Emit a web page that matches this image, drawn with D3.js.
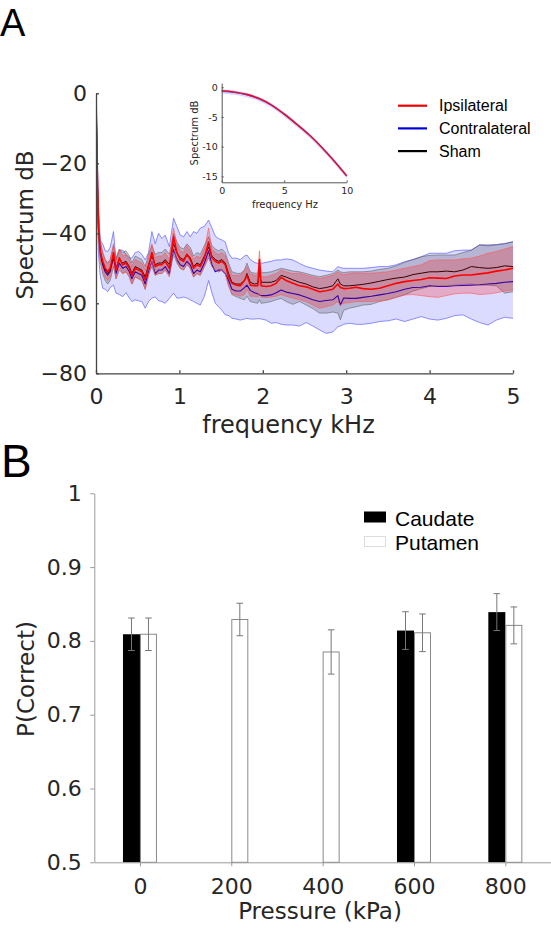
<!DOCTYPE html>
<html><head><meta charset="utf-8">
<script src="https://cdn.jsdelivr.net/npm/d3@7"></script>
<style>body{margin:0;background:#fff}svg{display:block}</style>
</head><body>
<script>
// ---------- Panel A data (frequency kHz, spectrum dB) ----------
const freqKHz = [0,0.01,0.02,0.03,0.05, 0.08,0.11,0.14,0.17,0.21, 0.24,0.28,0.32,0.36,0.40, 0.43,0.47,0.51,0.55,0.59, 0.63,0.67,0.71,0.75,0.79, 0.83,0.88,0.93,0.97,1.01, 1.05,1.09,1.13,1.17,1.21, 1.25,1.30,1.35,1.39,1.43, 1.47,1.51,1.55,1.59,1.63, 1.68,1.73,1.78,1.81,1.85, 1.90,1.94,1.96,1.98,2.04, 2.10,2.16,2.22,2.28,2.36, 2.44,2.52,2.60,2.68,2.76, 2.84,2.90,2.93,2.97,3.04, 3.12,3.20,3.30,3.40,3.50, 3.60,3.70,3.80,3.90,4.00, 4.10,4.20,4.30,4.40,4.50, 4.60,4.70,4.80,4.90,5.00];

const ipsiMean = [0,-14,-28,-38,-45, -48,-50,-51,-50,-45.5, -50.5,-47,-49,-48.5,-50, -52,-50,-50.5,-51,-53.3, -49.5,-45.5,-49.5,-49,-49, -48,-50,-41,-45.5,-47.5, -48,-46,-47.5,-50,-49, -49.5,-47,-42.5,-47,-48, -48.5,-48,-49,-52.5,-54.3, -54.8,-55,-53.5,-52,-54.8, -55,-55,-47.5,-55,-55.2, -55,-54.3,-52.6,-53.5,-54.3, -55,-55.3,-56,-56.7,-56.4, -56,-54.5,-55.5,-55.8,-55.7, -55.4,-55.8,-56,-55.7,-55, -54.3,-53.8,-53.5,-53.2,-52.7, -52.8,-52.9,-52.2,-51.9,-51.9, -51.6,-51.3,-50.8,-50.5,-50];
const ipsiHi = [0,-12,-25,-35,-42.5, -45.5,-47.5,-48.5,-47.5,-43, -48,-44.5,-46.5,-46,-47.5, -49.5,-47.5,-48,-48.5,-50.5, -47,-43,-47,-46.5,-46.5, -45.5,-47.5,-38.5,-43,-45, -45.5,-43.5,-45,-47.5,-46.5, -47,-44.5,-38.5,-44.5,-45.5, -46,-45.5,-46.5,-49.5,-52, -52,-52,-50.5,-49.5,-51.5, -52,-52,-45,-52.3,-52.5, -52,-51.5,-50.5,-51,-51.5, -51.4,-52,-52.5,-52.9,-52.5, -52,-51,-51.5,-51.8,-51.5, -51.3,-51.4,-51.4,-51.2,-51, -50.5,-50,-49.5,-49,-47.8, -47.6,-47.6,-47.6,-47.3,-47.1, -46.5,-45.7,-45.2,-44.5,-43.8];
const ipsiLo = [0,-16,-31,-41,-47.5, -50.5,-52.5,-53.5,-52.5,-48, -53,-49.5,-51.5,-51,-52.5, -54.5,-52.5,-53,-53.5,-56, -52,-48,-52,-51.5,-51.5, -50.5,-52.5,-43.5,-48,-50, -50.5,-48.5,-50,-52.5,-51.5, -52,-49.5,-46.5,-49.5,-50.5, -51,-50.5,-51.5,-55,-57.2, -57.6,-58,-57.5,-56,-58, -58,-58.2,-57,-58.2,-58.4, -58.2,-58,-57.5,-58,-58.5, -59,-59.5,-60.5,-61.4,-61, -60.5,-59.5,-60.5,-60,-59.8, -59.5,-59.5,-59.5,-59.3,-59, -58.3,-57.6,-57.5,-57.8,-58.1, -58.3,-57.8,-57.3,-57.1,-57.1, -57.5,-57.3,-57,-56.5,-56.2];

const contraMean = [0,-16,-30,-39,-46, -49,-51,-52,-51,-47, -51.5,-48.5,-50,-49.5,-51, -53,-51,-51.5,-52,-54.5, -51,-48,-51.5,-50.5,-50.5, -49.5,-51.5,-44.5,-47.5,-49, -49.5,-48,-49,-51.5,-50.5, -51,-48.5,-45,-49,-51, -50.5,-50.5,-51.5,-53.5,-56, -56.5,-56.5,-55.5,-54.8,-56.3, -57,-57.3,-57.6,-57.8,-57.8, -57.6,-57,-56.2,-56.8,-57.2, -57.6,-58.3,-59,-59.5,-59.2, -59,-57.8,-60.5,-58.5,-58.6, -58.6,-58.3,-58,-57.6,-57.2, -56.7,-56,-55.5,-55.4,-55, -55.2,-55.2,-55,-54.9,-54.8, -54.7,-54.5,-54.3,-54,-53.8];
const contraHi = [0,-10,-22,-33,-42, -43,-45,-45.2,-44,-39.5, -47.6,-44.8,-44.8,-46,-47, -47.1,-45.5,-45.2,-46,-47.6, -45.5,-39.5,-43,-40,-41.5, -40.5,-43.8,-35.7,-38.1,-40.5, -41,-39.5,-41,-39.5,-40, -38.5,-38,-36.2,-38.5,-40.8, -41.5,-41.9,-42.5,-45.7,-47.1, -47.1,-47.5,-46.5,-46.2,-47.5, -48.3,-48.6,-48.6,-48.6,-48.3, -48,-47.6,-47.6,-47.3,-47.6, -48.6,-49.5,-50,-50.5,-50.8, -51,-49.5,-49.8,-50,-50, -50,-50,-49.8,-49.5,-49.5, -49,-48.1,-47.5,-46.7,-45.7, -45.7,-45.7,-45,-44.8,-44.8, -43.3,-43.6,-43.3,-43,-42.4];
const contraLo = [0,-22,-36,-46,-52, -55.7,-56,-56.7,-55.5,-54.8, -57.1,-57.5,-58.1,-57,-58.5, -59.5,-59,-59.3,-59.5,-61.4, -59.5,-58.5,-58.2,-59.3,-59.5, -60,-58.6,-57.1,-58.5,-58.5, -58.2,-58.5,-59,-59.5,-60, -60.5,-58,-53.5,-57,-60, -61,-62,-63.3,-63.5,-64.3, -64.5,-64.8,-64.5,-64.3,-64.5, -64.5,-64.4,-64.4,-64.5,-64.8, -65.7,-65.5,-66,-66.2,-66.2, -66.5,-65.5,-66.5,-67.6,-68.6, -68.2,-66.7,-66.5,-66,-65.7, -66,-66,-65.7,-65.2,-65, -64.5,-65.2,-64.5,-63.8,-64.5, -64.8,-64.3,-63.5,-63.3,-64.5, -65.5,-66.2,-64.8,-64,-64.3];

const shamMean = [0,-15,-29,-38,-45, -48.5,-50.5,-51.5,-50.5,-46.5, -50,-47.5,-48.5,-48,-49.5, -51.5,-49.5,-50,-50.5,-52.5, -49,-46.5,-49,-48.5,-48.5, -47.5,-49,-43,-45.5,-47, -47.5,-46,-47,-49.5,-48.5, -49,-46.5,-44,-46.5,-47.5, -48,-47.5,-48.5,-51.5,-54, -54.5,-54.5,-53.5,-51.5,-54, -54.5,-54.3,-51,-54,-54, -54,-53.5,-52,-52.5,-53.3, -54,-54.5,-55.3,-55.8,-55.5, -55,-53,-54.5,-55,-55, -54.8,-54.6,-54.2,-53.7,-53.2, -52.8,-52.5,-51.8,-51.4,-51, -51,-50.8,-51,-50.5,-49.5, -49.8,-50,-49.8,-49.3,-49.5];
const shamHi = [0,-11,-25,-34.5,-42, -45.5,-47.5,-48.5,-47.5,-43.5, -47,-44.5,-45.5,-45,-46.5, -48.5,-46.5,-47,-47.5,-49.5, -46,-43.5,-46,-45.5,-45.5, -44.5,-46,-40,-42.5,-44, -44.5,-43,-44,-46.5,-45.5, -46,-43.5,-41,-43.5,-44.5, -45,-44.5,-45.5,-48.5,-51, -51.4,-51.5,-50.5,-48.5,-51, -51.4,-51.4,-48,-51.3,-51.2, -51,-50.5,-50,-50.3,-50.8, -51,-51.5,-52,-52.4,-52, -51.5,-50.5,-51,-51.2,-51, -51,-51,-50.8,-50.3,-50, -49.3,-48.3,-47.5,-46.7,-46.3, -46.2,-46.2,-46.2,-45.5,-44.8, -43.3,-43.3,-43.2,-42.9,-42.4];
const shamLo = [0,-19,-33,-41.5,-48, -51.5,-53.5,-54.5,-53.5,-49.5, -53,-50.5,-51.5,-51,-52.5, -54.5,-52.5,-53,-53.5,-56, -52,-49.5,-52,-51.5,-51.5, -50.5,-52,-46,-48.5,-50, -50.5,-49,-50,-52.5,-51.5, -52,-49.5,-47,-49.5,-50.5, -51,-50.5,-51.5,-55,-57.5, -58.1,-58.6,-59,-58,-59.5, -59.8,-60,-59,-60,-59.8, -59.5,-59,-58.6,-59.5,-60.3, -59.5,-60.5,-61.5,-62.8,-62.8, -62.5,-62.8,-64.7,-62,-61.4, -61,-60.5,-60.3,-59.5,-59, -58.3,-57.6,-56.5,-55.8,-55.2, -55,-55,-54.8,-54.6,-54.5, -54.8,-54.8,-55,-57.1,-56.7];

const spectrumXTicks = [0,1,2,3,4,5];
const spectrumYTicks = [0,-20,-40,-60,-80];
const legendA = ["Ipsilateral","Contralateral","Sham"];

// inset (frequency Hz, spectrum dB)
const insetFreqHz = [0,1,2,3,4,5,6,7,8,9,10];
const insetIpsi   = [-0.6,-0.8,-1.2,-1.9,-3.0,-4.5,-6.2,-8.0,-10.1,-12.4,-14.9];
const insetContra = [-0.7,-0.9,-1.3,-2.0,-3.1,-4.6,-6.3,-8.1,-10.2,-12.5,-15.0];
const insetXTicks = [0,5,10];
const insetYTicks = [0,-5,-10,-15];

// ---------- Panel B data ----------
const pressures = [0,200,400,600,800];
const caudateP   = [0.809,null,null,0.814,0.839];
const caudateErr = [0.022,null,null,0.0255,0.025];
const putamenP   = [0.809,0.829,0.785,0.811,0.821];
const putamenErr = [0.022,0.022,0.030,0.0255,0.025];
const pTicks = [0.5,0.6,0.7,0.8,0.9,1];
const legendB = ["Caudate","Putamen"];

// ---------- drawing ----------
const W = 551, H = 928;
const svg = d3.select("body").append("svg").attr("width", W).attr("height", H);
const AX = "DejaVu Sans, sans-serif", LG = "Liberation Sans, Arial, sans-serif";
const txt = "#262626";
const minus = d => d < 0 ? "\u2212" + Math.abs(d) : String(d);

// Panel letters
svg.append("text").attr("x", 0).attr("y", 36).attr("font-family", LG).attr("font-size", 38).attr("fill", "#000").text("A");
svg.append("text").attr("x", 1).attr("y", 477).attr("font-family", LG).attr("font-size", 46).attr("fill", "#000").text("B");

// ===== Panel A =====
const xA = d3.scaleLinear().domain([0,5]).range([96,513]);
const yA = d3.scaleLinear().domain([-80,0]).range([373.3,93.3]);

svg.append("defs").append("clipPath").attr("id","clipA")
  .append("rect").attr("x",96).attr("y",93.3).attr("width",417).attr("height",280);

const gA = svg.append("g").attr("clip-path","url(#clipA)");
const idx = d3.range(freqKHz.length);
function band(lo, hi, fill, edge) {
  const area = d3.area().x(i => xA(freqKHz[i])).y0(i => yA(lo[i])).y1(i => yA(hi[i]));
  gA.append("path").attr("d", area(idx)).attr("fill", fill).attr("stroke","none");
  const ln = arr => d3.line().x(i => xA(freqKHz[i])).y(i => yA(arr[i]))(idx);
  gA.append("path").attr("d", ln(lo)).attr("fill","none").attr("stroke", edge).attr("stroke-width",0.9);
  gA.append("path").attr("d", ln(hi)).attr("fill","none").attr("stroke", edge).attr("stroke-width",0.9);
}
function meanLine(arr, color, w) {
  gA.append("path").attr("d", d3.line().x(i => xA(freqKHz[i])).y(i => yA(arr[i]))(idx))
    .attr("fill","none").attr("stroke", color).attr("stroke-width", w).attr("stroke-linejoin","round");
}
band(contraLo, contraHi, "rgba(40,40,255,0.17)", "rgba(90,90,255,0.75)");
meanLine(contraMean, "#0000ff", 1.1);
band(shamLo, shamHi, "rgba(0,0,0,0.17)", "rgba(90,90,90,0.6)");
meanLine(shamMean, "#000", 1);
band(ipsiLo, ipsiHi, "rgba(255,0,0,0.22)", "rgba(255,90,90,0.7)");
meanLine(ipsiMean, "#ff0000", 1.6);

// axes A
const axA_y = svg.append("g").attr("transform","translate(96,0)")
  .call(d3.axisLeft(yA).tickValues(spectrumYTicks).tickSizeInner(-3).tickSizeOuter(0).tickPadding(9).tickFormat(minus));
const axA_x = svg.append("g").attr("transform","translate(0,373.3)")
  .call(d3.axisBottom(xA).tickValues(spectrumXTicks).tickSizeInner(-3).tickSizeOuter(0).tickPadding(15).tickFormat(minus));
[axA_y, axA_x].forEach(g => {
  g.select(".domain").attr("stroke","#444").attr("stroke-width",1.3);
  g.selectAll(".tick line").attr("stroke","#444").attr("stroke-width",1.3);
  g.selectAll("text").attr("font-family",AX).attr("font-size",22).attr("fill",txt);
});
svg.append("text").attr("transform","translate(33,225) rotate(-90)").attr("text-anchor","middle")
  .attr("font-family",AX).attr("font-size",23).attr("fill",txt).text("Spectrum dB");
svg.append("text").attr("x",288.5).attr("y",433).attr("text-anchor","middle")
  .attr("font-family",AX).attr("font-size",24).attr("fill",txt).text("frequency kHz");

// legend A
const legColors = ["#ee0000","#0000dd","#000000"];
legendA.forEach((name, i) => {
  const y = 105.7 + i * 22.7;
  svg.append("line").attr("x1",398).attr("x2",427).attr("y1",y).attr("y2",y)
    .attr("stroke",legColors[i]).attr("stroke-width",2.2);
  svg.append("text").attr("x",439).attr("y",y+5.5).attr("font-family",LG).attr("font-size",16).attr("fill","#000").text(name);
});

// inset
const xI = d3.scaleLinear().domain([0,10]).range([221.7,346.7]);
const yI = d3.scaleLinear().domain([-16,0.7]).range([182.3,83.1]);
const iidx = d3.range(insetFreqHz.length);
const insetArea = d3.area().curve(d3.curveMonotoneX).x(i => xI(insetFreqHz[i]))
  .y0(i => yI(insetContra[i]) + 2.2).y1(i => yI(insetContra[i]) - 2.2);
svg.append("path").attr("d", insetArea(iidx)).attr("fill","rgba(60,60,255,0.22)");
const insetLine = arr => d3.line().curve(d3.curveMonotoneX).x(i => xI(insetFreqHz[i])).y(i => yI(arr[i]))(iidx);
svg.append("path").attr("d", insetLine(insetContra)).attr("fill","none").attr("stroke","#6666ff").attr("stroke-width",1);
svg.append("path").attr("d", insetLine(insetIpsi)).attr("fill","none").attr("stroke","#dd1030").attr("stroke-width",1.6);
const axI_y = svg.append("g").attr("transform","translate(221.7,0)")
  .call(d3.axisLeft(yI).tickValues(insetYTicks).tickSizeInner(-2).tickSizeOuter(0).tickPadding(4).tickFormat(d => d < 0 ? "-" + Math.abs(d) : d));
const axI_x = svg.append("g").attr("transform","translate(0,182.3)")
  .call(d3.axisBottom(xI).tickValues(insetXTicks).tickSizeInner(-2).tickSizeOuter(0).tickPadding(5));
[axI_y, axI_x].forEach(g => {
  g.select(".domain").attr("stroke","#555").attr("stroke-width",1);
  g.selectAll(".tick line").attr("stroke","#555");
  g.selectAll("text").attr("font-family",AX).attr("font-size",9.5).attr("fill",txt);
});
svg.append("text").attr("transform","translate(198,133) rotate(-90)").attr("text-anchor","middle")
  .attr("font-family",AX).attr("font-size",10).attr("fill",txt).text("Spectrum dB");
svg.append("text").attr("x",285).attr("y",208).attr("text-anchor","middle")
  .attr("font-family",AX).attr("font-size",10).attr("fill",txt).text("frequency Hz");

// ===== Panel B =====
const xB = d3.scaleLinear().domain([-100,900]).range([94.3,551]);
const yB = d3.scaleLinear().domain([0.5,1]).range([862.3,493.3]);
const bw = 17;
const gB = svg.append("g");
pressures.forEach((p, i) => {
  const cx = xB(p);
  if (caudateP[i] != null) {
    gB.append("rect").attr("x", cx - bw).attr("y", yB(caudateP[i])).attr("width", bw)
      .attr("height", yB(0.5) - yB(caudateP[i])).attr("fill","#000");
  }
  if (putamenP[i] != null) {
    gB.append("rect").attr("x", cx + 0.5).attr("y", yB(putamenP[i])).attr("width", bw - 1)
      .attr("height", yB(0.5) - yB(putamenP[i])).attr("fill","#fff").attr("stroke","#8a8a8a").attr("stroke-width",1);
  }
});
function errBar(xc, v, e) {
  const g = gB.append("g").attr("stroke","#777").attr("stroke-width",1);
  g.append("line").attr("x1",xc).attr("x2",xc).attr("y1",yB(v-e)).attr("y2",yB(v+e));
  g.append("line").attr("x1",xc-3.3).attr("x2",xc+3.3).attr("y1",yB(v+e)).attr("y2",yB(v+e));
  g.append("line").attr("x1",xc-3.3).attr("x2",xc+3.3).attr("y1",yB(v-e)).attr("y2",yB(v-e));
}
pressures.forEach((p, i) => {
  const cx = xB(p);
  if (caudateP[i] != null) errBar(cx - bw/2, caudateP[i], caudateErr[i]);
  if (putamenP[i] != null) errBar(cx + bw/2, putamenP[i], putamenErr[i]);
});
const axB_y = svg.append("g").attr("transform","translate(94.3,0)")
  .call(d3.axisLeft(yB).tickValues(pTicks).tickSizeInner(4).tickSizeOuter(0).tickPadding(8.5).tickFormat(d => d === 1 ? "1" : d.toFixed(1)));
const axB_x = svg.append("g").attr("transform","translate(0,862.3)")
  .call(d3.axisBottom(xB).tickValues(pressures).tickSizeInner(4).tickSizeOuter(0).tickPadding(12));
[axB_y, axB_x].forEach(g => {
  g.select(".domain").attr("stroke","#999").attr("stroke-width",1);
  g.selectAll(".tick line").attr("stroke","#999");
  g.selectAll("text").attr("font-family",AX).attr("font-size",22).attr("fill",txt);
});
svg.append("text").attr("transform","translate(34,679) rotate(-90)").attr("text-anchor","middle")
  .attr("font-family",AX).attr("font-size",23).attr("fill",txt).text("P(Correct)");
svg.append("text").attr("x",320).attr("y",919).attr("text-anchor","middle")
  .attr("font-family",AX).attr("font-size",23).attr("fill",txt).text("Pressure (kPa)");

// legend B
legendB.forEach((name, i) => {
  const y = 512 + i * 24.5;
  svg.append("rect").attr("x",364.5).attr("y",y).attr("width",21).attr("height",10)
    .attr("fill", i === 0 ? "#000" : "#fff").attr("stroke", i === 0 ? "#000" : "#ddd").attr("stroke-width",1);
  svg.append("text").attr("x",395).attr("y",y+13.5).attr("font-family",LG).attr("font-size",21).attr("fill","#000").text(name);
});
</script>
</body></html>
